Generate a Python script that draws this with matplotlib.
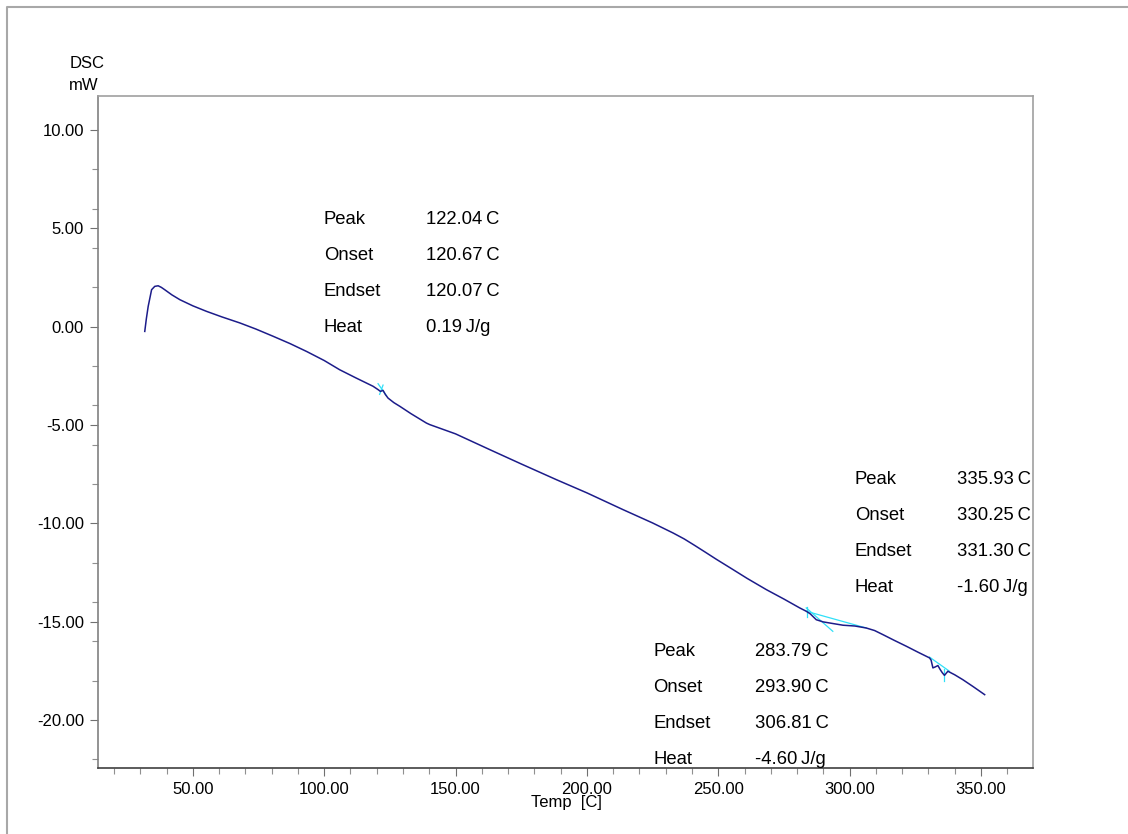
import numpy as np
import matplotlib
matplotlib.use("Agg")
import matplotlib.pyplot as plt
from matplotlib.lines import Line2D
from matplotlib.ticker import MultipleLocator, FormatStrFormatter

plt.rcParams['font.family'] = ['Liberation Sans', 'DejaVu Sans']

# DSC trace (temperature in C, heat flow in mW)
temp = [31.7, 32.3, 33.0, 34.3, 35.5, 36.8, 38.0, 39.3, 42.0, 45.1, 50.0, 55.2,
        61.0, 67.9, 74.0, 80.6, 87.0, 93.3, 100.0, 105.9, 112.0, 118.6, 120.5,
        121.4, 122.4, 123.3, 124.3, 126.5, 128.8, 133.0, 138.9, 140.2, 150.0,
        163.0, 175.0, 188.4, 200.0, 213.7, 225.0, 232.8, 237.0, 241.0, 245.0,
        249.3, 255.0, 261.0, 268.3, 275.0, 281.0, 283.5, 285.0, 287.3, 289.9,
        293.0, 297.5, 302.0, 306.3, 309.5, 312.7, 317.0, 321.6, 326.0, 330.4,
        331.0, 331.7, 332.6, 333.6, 334.5, 335.3, 336.1, 337.4, 340.0, 343.1,
        347.0, 351.4]
dsc = [-0.24, 0.40, 1.03, 1.88, 2.05, 2.08, 2.00, 1.88, 1.62, 1.37, 1.06, 0.78,
       0.50, 0.19, -0.12, -0.49, -0.86, -1.26, -1.72, -2.19, -2.60, -3.03, -3.20,
       -3.29, -3.24, -3.45, -3.63, -3.86, -4.05, -4.42, -4.90, -4.98, -5.45,
       -6.25, -6.98, -7.78, -8.45, -9.30, -9.98, -10.49, -10.79, -11.12, -11.46,
       -11.83, -12.30, -12.80, -13.37, -13.85, -14.30, -14.47, -14.60, -14.90, -15.01,
       -15.08, -15.18, -15.22, -15.32, -15.45, -15.66, -15.95, -16.25, -16.55, -16.84,
       -16.95, -17.35, -17.30, -17.23, -17.44, -17.60, -17.73, -17.52, -17.70, -17.95,
       -18.30, -18.71]

# analysis helper lines (baselines / tangents / peak markers), each a pair of points
helper_x = [(120.5, 123.7), (122.4, 121.1),
            (283.5, 306.3), (283.5, 293.6), (283.8, 283.8),
            (330.4, 338.0), (336.1, 336.1)]
helper_y = [(-2.90, -3.51), (-2.97, -3.44),
            (-14.47, -15.32), (-14.30, -15.49), (-14.25, -14.76),
            (-16.80, -17.52), (-17.40, -18.00)]

# peak analysis results
res_names = ['Peak', 'Onset', 'Endset', 'Heat']
res1 = ['122.04\u2009C', '120.67\u2009C', '120.07\u2009C', '0.19\u2009J/g']
res2 = ['335.93\u2009C', '330.25\u2009C', '331.30\u2009C', '-1.60\u2009J/g']
res3 = ['283.79\u2009C', '293.90\u2009C', '306.81\u2009C', '-4.60\u2009J/g']

fig = plt.figure(figsize=(11.28, 8.34), dpi=100)
ax = fig.add_axes([98/1128, 1 - 768/834, 935/1128, 672/834])

for hx, hy in zip(helper_x, helper_y):
    ax.plot(hx, hy, color='#30e0f8', lw=0.9)
ax.plot(temp, dsc, color='#1c1c8a', lw=1.1)

ax.set_xlim(13.9, 369.8)
ax.set_ylim(-22.44, 11.73)
ax.xaxis.set_major_locator(MultipleLocator(50))
ax.xaxis.set_minor_locator(MultipleLocator(10))
ax.yaxis.set_major_locator(MultipleLocator(5))
ax.yaxis.set_minor_locator(MultipleLocator(2))
ax.xaxis.set_major_formatter(FormatStrFormatter('%.2f'))
ax.yaxis.set_major_formatter(FormatStrFormatter('%.2f'))
ax.tick_params(which='major', length=6, width=0.8, color='#707070', labelsize=12, pad=4)
ax.tick_params(which='minor', length=4, width=0.8, color='#909090')

ax.spines['top'].set_color('#a0a0a0')
ax.spines['right'].set_color('#a0a0a0')
ax.spines['left'].set_color('#808080')
ax.spines['bottom'].set_color('#404040')
for s in ax.spines.values():
    s.set_linewidth(1.2)

# result blocks
blocks = [(0.2417, 0.3508, 0.8155, res1),
          (0.8096, 0.9187, 0.4300, res2),
          (0.5936, 0.7027, 0.1741, res3)]
step = 36 / 672
for xl, xv, y0, vals in blocks:
    for i, (nm, v) in enumerate(zip(res_names, vals)):
        ax.text(xl, y0 - i * step, nm, transform=ax.transAxes, fontsize=13.3,
                ha='left', va='center')
        ax.text(xv, y0 - i * step, v, transform=ax.transAxes, fontsize=13.3,
                ha='left', va='center')

fig.text(70/1128, 1 - 63/834, 'DSC', fontsize=12, ha='left', va='center')
fig.text(69/1128, 1 - 85/834, 'mW', fontsize=12, ha='left', va='center')
fig.text(566/1128, 1 - 803/834, 'Temp  [C]', fontsize=12, ha='center', va='center')

# outer frame
fig.add_artist(Line2D([7/1128, 7/1128, 1.0], [0.0, 1 - 7/834, 1 - 7/834],
                      transform=fig.transFigure, color='#a8a8a8', lw=1.5))

fig.savefig('out.png', dpi=100)
